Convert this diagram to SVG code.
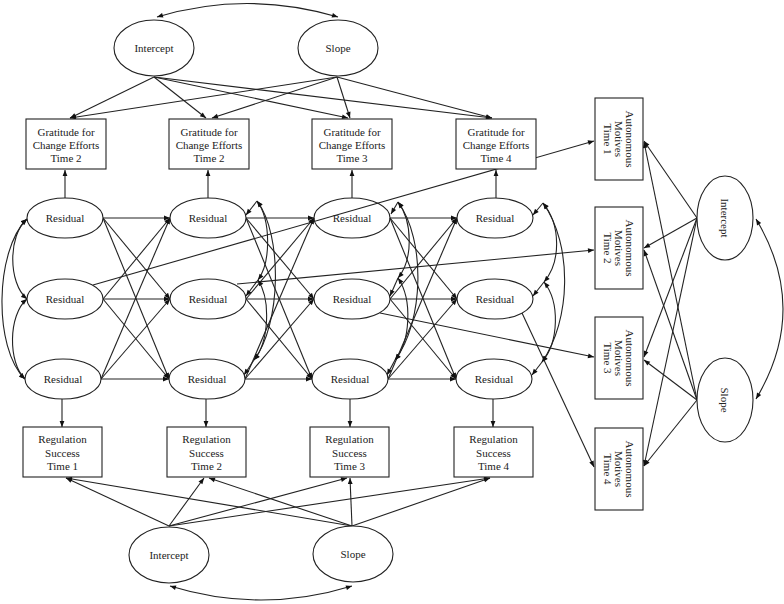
<svg xmlns="http://www.w3.org/2000/svg" width="784" height="604" viewBox="0 0 784 604">
<defs>
<marker id="a" viewBox="0 0 10 10" refX="10" refY="5" markerWidth="7" markerHeight="6" markerUnits="userSpaceOnUse" orient="auto-start-reverse"><path d="M0,1 L10,5 L0,9 z" fill="#111"/></marker>
<style>
.n{fill:#fff;stroke:#222;stroke-width:1.1}
.t{font-family:"Liberation Serif","Times New Roman",serif;font-size:11px;fill:#222;text-anchor:middle}
.c line,.c path{stroke:#222;stroke-width:1.1;fill:none}
.c .e{marker-end:url(#a)}
.c .d{marker-start:url(#a);marker-end:url(#a)}
</style>
</defs>
<rect width="784" height="604" fill="#fff"/>
<g class="c" id="connectors">
<!-- top growth -->
<path class="d" d="M157,17 Q247,-10 338,17"/>
<line class="e" x1="154" y1="77" x2="70" y2="118"/>
<line class="e" x1="154" y1="77" x2="206" y2="118"/>
<line class="e" x1="154" y1="77" x2="348" y2="118"/>
<line class="e" x1="154" y1="77" x2="492" y2="118"/>
<line class="e" x1="337" y1="77" x2="70" y2="118"/>
<line class="e" x1="337" y1="77" x2="212" y2="118"/>
<line class="e" x1="337" y1="77" x2="350" y2="118"/>
<line class="e" x1="337" y1="77" x2="492" y2="118"/>
<!-- bottom growth -->
<path class="d" d="M170,586 Q261,614 352,586"/>
<line class="e" x1="169" y1="526" x2="66" y2="478"/>
<line class="e" x1="169" y1="526" x2="204" y2="478"/>
<line class="e" x1="169" y1="526" x2="347" y2="478"/>
<line class="e" x1="169" y1="526" x2="490" y2="478"/>
<line class="e" x1="352" y1="526" x2="66" y2="478"/>
<line class="e" x1="352" y1="526" x2="209" y2="478"/>
<line class="e" x1="352" y1="526" x2="350" y2="478"/>
<line class="e" x1="352" y1="526" x2="490" y2="478"/>
<!-- right growth -->
<path class="d" d="M756,219 Q810,309 756,399"/>
<line class="e" x1="697" y1="218" x2="644" y2="141"/>
<line class="e" x1="697" y1="218" x2="644" y2="248"/>
<line class="e" x1="697" y1="218" x2="644" y2="357"/>
<line class="e" x1="697" y1="218" x2="644" y2="466"/>
<line class="e" x1="697" y1="400" x2="644" y2="142"/>
<line class="e" x1="697" y1="400" x2="644" y2="250"/>
<line class="e" x1="697" y1="400" x2="644" y2="360"/>
<line class="e" x1="697" y1="400" x2="644" y2="466"/>
<!-- residual to indicators -->
<line class="e" x1="65" y1="198" x2="65" y2="170"/>
<line class="e" x1="208" y1="198" x2="208" y2="170"/>
<line class="e" x1="352" y1="198" x2="352" y2="170"/>
<line class="e" x1="496" y1="198" x2="496" y2="170"/>
<line class="e" x1="62" y1="399" x2="62" y2="427"/>
<line class="e" x1="206" y1="399" x2="206" y2="427"/>
<line class="e" x1="350" y1="399" x2="350" y2="427"/>
<line class="e" x1="493" y1="399" x2="493" y2="427"/>
<!-- residual to autonomous motives -->
<line class="e" x1="93" y1="285" x2="594" y2="141"/>
<line class="e" x1="237" y1="284" x2="594" y2="250"/>
<line class="e" x1="380" y1="313" x2="594" y2="357"/>
<line class="e" x1="522" y1="313" x2="594" y2="467"/>
<!-- cross-lagged col1 -> col2 -->
<line class="e" x1="103" y1="218" x2="170" y2="218"/>
<line class="e" x1="103" y1="218" x2="170" y2="299"/>
<line class="e" x1="103" y1="218" x2="169" y2="379"/>
<line class="e" x1="103" y1="299" x2="170" y2="218"/>
<line class="e" x1="103" y1="299" x2="170" y2="299"/>
<line class="e" x1="103" y1="299" x2="169" y2="379"/>
<line class="e" x1="101" y1="379" x2="170" y2="218"/>
<line class="e" x1="101" y1="379" x2="170" y2="299"/>
<line class="e" x1="101" y1="379" x2="169" y2="379"/>
<!-- col2 -> col3 -->
<line class="e" x1="246" y1="218" x2="314" y2="218"/>
<line class="e" x1="246" y1="218" x2="314" y2="299"/>
<line class="e" x1="246" y1="218" x2="312" y2="379"/>
<line class="e" x1="246" y1="299" x2="314" y2="218"/>
<line class="e" x1="246" y1="299" x2="314" y2="299"/>
<line class="e" x1="246" y1="299" x2="312" y2="379"/>
<line class="e" x1="245" y1="379" x2="314" y2="218"/>
<line class="e" x1="245" y1="379" x2="314" y2="299"/>
<line class="e" x1="245" y1="379" x2="312" y2="379"/>
<!-- col3 -> col4 -->
<line class="e" x1="390" y1="218" x2="457" y2="218"/>
<line class="e" x1="390" y1="218" x2="457" y2="299"/>
<line class="e" x1="390" y1="218" x2="456" y2="379"/>
<line class="e" x1="390" y1="299" x2="457" y2="218"/>
<line class="e" x1="390" y1="299" x2="457" y2="299"/>
<line class="e" x1="390" y1="299" x2="456" y2="379"/>
<line class="e" x1="388" y1="379" x2="457" y2="218"/>
<line class="e" x1="388" y1="379" x2="457" y2="299"/>
<line class="e" x1="388" y1="379" x2="456" y2="379"/>
<!-- within-time covariances col1 (left) -->
<path class="d" d="M27,219 C8,235 8,283 27,299"/>
<path class="d" d="M27,299 C8,315 8,363 25,379"/>
<path class="d" d="M27,219 C-5,250 -7,348 25,379"/>
<!-- col2 -->
<line class="e" x1="257" y1="201" x2="246" y2="215"/>
<line class="e" x1="258" y1="280" x2="246" y2="296"/>
<line class="e" x1="254" y1="360" x2="244" y2="375"/>
<path class="d" d="M257,201 C271,220 271,262 258,280"/>
<path class="d" d="M258,280 C271,300 269,342 254,360"/>
<path class="d" d="M257,201 C283,235 281,325 254,360"/>
<!-- col3 -->
<line class="e" x1="398" y1="202" x2="391" y2="214"/>
<line class="e" x1="398" y1="278" x2="390" y2="296"/>
<line class="e" x1="395" y1="360" x2="387" y2="375"/>
<path class="d" d="M398,202 C413,222 413,260 398,278"/>
<path class="d" d="M398,278 C413,300 410,342 395,360"/>
<path class="d" d="M398,202 C426,240 424,322 395,360"/>
<!-- col4 -->
<line class="e" x1="543" y1="203" x2="533" y2="215"/>
<line class="e" x1="544" y1="282" x2="533" y2="296"/>
<line class="e" x1="542" y1="362" x2="532" y2="375"/>
<path class="d" d="M543,203 C561,225 561,262 544,282"/>
<path class="d" d="M544,282 C560,302 559,342 542,362"/>
<path class="d" d="M543,203 C573,245 571,320 542,362"/>
</g>
<g id="top-intercept"><ellipse class="n" cx="154" cy="48" rx="40" ry="28"/><text class="t" x="154" y="52">Intercept</text></g>
<g id="top-slope"><ellipse class="n" cx="338" cy="48" rx="40" ry="28"/><text class="t" x="338" y="52">Slope</text></g>
<g id="grat1"><rect class="n" x="26" y="119" width="80" height="50"/><text class="t" x="66" y="136">Gratitude for</text><text class="t" x="66" y="149">Change Efforts</text><text class="t" x="66" y="162">Time 2</text></g>
<g id="grat2"><rect class="n" x="169" y="119" width="80" height="50"/><text class="t" x="209" y="136">Gratitude for</text><text class="t" x="209" y="149">Change Efforts</text><text class="t" x="209" y="162">Time 2</text></g>
<g id="grat3"><rect class="n" x="312" y="119" width="80" height="50"/><text class="t" x="352" y="136">Gratitude for</text><text class="t" x="352" y="149">Change Efforts</text><text class="t" x="352" y="162">Time 3</text></g>
<g id="grat4"><rect class="n" x="456" y="119" width="80" height="50"/><text class="t" x="496" y="136">Gratitude for</text><text class="t" x="496" y="149">Change Efforts</text><text class="t" x="496" y="162">Time 4</text></g>
<g id="r11"><ellipse class="n" cx="65" cy="218" rx="38" ry="20"/><text class="t" x="65" y="222">Residual</text></g>
<g id="r12"><ellipse class="n" cx="65" cy="299" rx="38" ry="20"/><text class="t" x="65" y="303">Residual</text></g>
<g id="r13"><ellipse class="n" cx="63" cy="379" rx="38" ry="20"/><text class="t" x="63" y="383">Residual</text></g>
<g id="r21"><ellipse class="n" cx="208" cy="218" rx="38" ry="20"/><text class="t" x="208" y="222">Residual</text></g>
<g id="r22"><ellipse class="n" cx="208" cy="299" rx="38" ry="20"/><text class="t" x="208" y="303">Residual</text></g>
<g id="r23"><ellipse class="n" cx="207" cy="379" rx="38" ry="20"/><text class="t" x="207" y="383">Residual</text></g>
<g id="r31"><ellipse class="n" cx="352" cy="218" rx="38" ry="20" fill-opacity="0"/><text class="t" x="352" y="222">Residual</text></g>
<g id="r32"><ellipse class="n" cx="352" cy="299" rx="38" ry="20"/><text class="t" x="352" y="303">Residual</text></g>
<g id="r33"><ellipse class="n" cx="350" cy="379" rx="38" ry="20"/><text class="t" x="350" y="383">Residual</text></g>
<g id="r41"><ellipse class="n" cx="495" cy="218" rx="38" ry="20"/><text class="t" x="495" y="222">Residual</text></g>
<g id="r42"><ellipse class="n" cx="495" cy="299" rx="38" ry="20"/><text class="t" x="495" y="303">Residual</text></g>
<g id="r43"><ellipse class="n" cx="494" cy="379" rx="38" ry="20"/><text class="t" x="494" y="383">Residual</text></g>
<g id="reg1"><rect class="n" x="23" y="427" width="79" height="50"/><text class="t" x="62.5" y="443">Regulation</text><text class="t" x="62.5" y="457">Success</text><text class="t" x="62.5" y="470">Time 1</text></g>
<g id="reg2"><rect class="n" x="167" y="427" width="79" height="50"/><text class="t" x="206.5" y="443">Regulation</text><text class="t" x="206.5" y="457">Success</text><text class="t" x="206.5" y="470">Time 2</text></g>
<g id="reg3"><rect class="n" x="310" y="427" width="79" height="50"/><text class="t" x="349.5" y="443">Regulation</text><text class="t" x="349.5" y="457">Success</text><text class="t" x="349.5" y="470">Time 3</text></g>
<g id="reg4"><rect class="n" x="454" y="427" width="79" height="50"/><text class="t" x="493.5" y="443">Regulation</text><text class="t" x="493.5" y="457">Success</text><text class="t" x="493.5" y="470">Time 4</text></g>
<g id="bot-intercept"><ellipse class="n" cx="169" cy="555" rx="40" ry="28"/><text class="t" x="169" y="559">Intercept</text></g>
<g id="bot-slope"><ellipse class="n" cx="353" cy="554" rx="40" ry="28"/><text class="t" x="353" y="558">Slope</text></g>
<g id="am1"><rect class="n" x="595" y="98" width="48" height="82"/><g transform="translate(619,139) rotate(90)"><text class="t" x="0" y="-7">Autonomous</text><text class="t" x="0" y="4">Motives</text><text class="t" x="0" y="15">Time 1</text></g></g>
<g id="am2"><rect class="n" x="595" y="207" width="48" height="82"/><g transform="translate(619,248) rotate(90)"><text class="t" x="0" y="-7">Autonomous</text><text class="t" x="0" y="4">Motives</text><text class="t" x="0" y="15">Time 2</text></g></g>
<g id="am3"><rect class="n" x="595" y="317" width="48" height="82"/><g transform="translate(619,358) rotate(90)"><text class="t" x="0" y="-7">Autonomous</text><text class="t" x="0" y="4">Motives</text><text class="t" x="0" y="15">Time 3</text></g></g>
<g id="am4"><rect class="n" x="595" y="428" width="48" height="82"/><g transform="translate(619,469) rotate(90)"><text class="t" x="0" y="-7">Autonomous</text><text class="t" x="0" y="4">Motives</text><text class="t" x="0" y="15">Time 4</text></g></g>
<g id="right-intercept"><ellipse class="n" cx="725" cy="218" rx="28" ry="42"/><text class="t" transform="translate(725,218) rotate(90)" x="0" y="4">Intercept</text></g>
<g id="right-slope"><ellipse class="n" cx="725" cy="400" rx="28" ry="42"/><text class="t" transform="translate(725,400) rotate(90)" x="0" y="4">Slope</text></g>
</svg>
